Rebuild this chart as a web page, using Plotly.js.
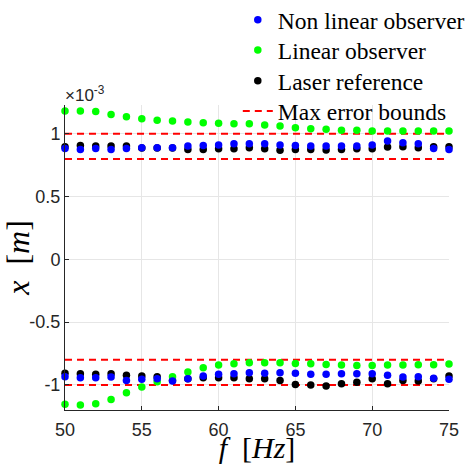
<!DOCTYPE html>
<html>
<head>
<meta charset="utf-8">
<script src="https://cdn.plot.ly/plotly-3.0.1.min.js"></script>
<style>html,body{margin:0;padding:0;background:#fff;}#chart{width:467px;height:464px;}</style>
</head>
<body>
<div id="chart"></div>
<script>
// Frequencies [Hz]
const freq = [50,51,52,53,54,55,56,57,58,59,60,61,62,63,64,65,66,67,68,69,70,71,72,73,74,75];
// Values in units of 1e-3 m
const nonlinUpper = [0.884,0.876,0.884,0.876,0.884,0.890,0.890,0.890,0.903,0.908,0.911,0.922,0.922,0.922,0.911,0.908,0.903,0.903,0.903,0.903,0.911,0.943,0.930,0.922,0.884,0.876];
const nonlinLower = [-0.935,-0.943,-0.943,-0.938,-0.964,-0.956,-0.951,-0.969,-0.951,-0.930,-0.916,-0.911,-0.903,-0.908,-0.903,-0.908,-0.916,-0.916,-0.911,-0.911,-0.911,-0.924,-0.938,-0.935,-0.948,-0.956];
const linUpper = [1.182,1.182,1.178,1.155,1.137,1.121,1.108,1.102,1.094,1.089,1.084,1.081,1.081,1.071,1.063,1.049,1.041,1.036,1.028,1.028,1.023,1.023,1.023,1.023,1.023,1.023];
const linLower = [-1.155,-1.161,-1.150,-1.116,-1.062,-1.017,-0.975,-0.935,-0.898,-0.863,-0.842,-0.831,-0.823,-0.823,-0.823,-0.829,-0.831,-0.837,-0.842,-0.845,-0.845,-0.842,-0.842,-0.839,-0.839,-0.834];
const laserUpper = [0.898,0.908,0.903,0.903,0.903,0.888,0.888,0.888,0.876,0.876,0.882,0.882,0.890,0.882,0.869,0.876,0.876,0.871,0.876,0.882,0.882,0.895,0.898,0.890,0.898,0.898];
const laserLower = [-0.908,-0.911,-0.916,-0.911,-0.924,-0.930,-0.935,-0.965,-0.951,-0.943,-0.943,-0.943,-0.951,-0.951,-0.964,-0.996,-1.001,-1.009,-0.991,-0.978,-0.951,-0.991,-0.964,-0.969,-0.951,-0.930];
const bounds = [1, 0.8, -0.8, -1];
const seriesNames = ['Non linear observer','Linear observer','Laser reference','Max error bounds'];
const yTicks = [-1,-0.5,0,0.5,1];
const yTickText = ['-1','-0.5','0','0.5','1'];
const xTicks = [50,55,60,65,70,75];

const fMin = freq[0], fMax = freq[freq.length-1];
let bx = [], by = [];
bounds.forEach(b => { bx.push(fMin, fMax, null); by.push(b, b, null); });

function dots(name, color, up, lo, lg) {
  return {
    x: freq.concat([null], freq), y: up.concat([null], lo),
    mode: 'markers', type: 'scatter', name: name, legend: lg,
    marker: {color: color, size: 7.5}, cliponaxis: false
  };
}

const traces = [
  {x: bx, y: by, mode: 'lines', type: 'scatter', name: seriesNames[3], legend: 'legend4',
   line: {color: '#ff0000', width: 2, dash: '7px,5px'}},
  dots(seriesNames[2], '#000000', laserUpper, laserLower, 'legend3'),
  dots(seriesNames[1], '#00ff00', linUpper, linLower, 'legend2'),
  dots(seriesNames[0], '#0000ff', nonlinUpper, nonlinLower, 'legend')
];

const legFont = {family: 'Liberation Serif', size: 23.5, color: '#000'};
function leg(y) {
  return {x: 0.45, xanchor: 'left', y: y, yanchor: 'middle',
          bgcolor: 'rgba(0,0,0,0)', borderwidth: 0, font: legFont, itemwidth: 30};
}

const layout = {
  width: 467, height: 464,
  margin: {l: 65, r: 18, t: 105, b: 54, autoexpand: false},
  paper_bgcolor: '#fff', plot_bgcolor: '#fff',
  showlegend: true,
  legend: leg(1.279),
  legend2: leg(1.180),
  legend3: leg(1.079),
  legend4: leg(0.980),
  xaxis: {
    range: [50, 75], tickvals: xTicks, ticks: 'inside', ticklen: 4,
    tickcolor: '#262626', showline: true, linecolor: '#262626', linewidth: 1,
    showgrid: true, gridcolor: '#e6e6e6', zeroline: false, mirror: false,
    ticklabelstandoff: 3,
    tickfont: {family: 'Liberation Sans', size: 18, color: '#262626'},
    title: {text: '<i>f</i>  [<i>Hz</i>]', standoff: 3,
            font: {family: 'Liberation Serif', size: 30, color: '#000'}}
  },
  yaxis: {
    range: [-1.2, 1.23], tickvals: yTicks, ticktext: yTickText, ticks: 'inside', ticklen: 4,
    tickcolor: '#262626', showline: true, linecolor: '#262626', linewidth: 1,
    showgrid: true, gridcolor: '#e6e6e6', zeroline: false,
    tickfont: {family: 'Liberation Sans', size: 18, color: '#262626'},
    title: {text: '<i>x</i>  [<i>m</i>]', standoff: 4,
            font: {family: 'Liberation Serif', size: 32, color: '#000'}}
  },
  annotations: [{
    xref: 'paper', yref: 'paper', x: 0, y: 1, xanchor: 'left', yanchor: 'bottom',
    text: '×10<sup>-3</sup>', showarrow: false, xshift: -2, yshift: -2,
    font: {family: 'Liberation Sans', size: 17, color: '#262626'}
  }]
};

Plotly.newPlot('chart', traces, layout, {displayModeBar: false, staticPlot: true});
</script>
</body>
</html>
